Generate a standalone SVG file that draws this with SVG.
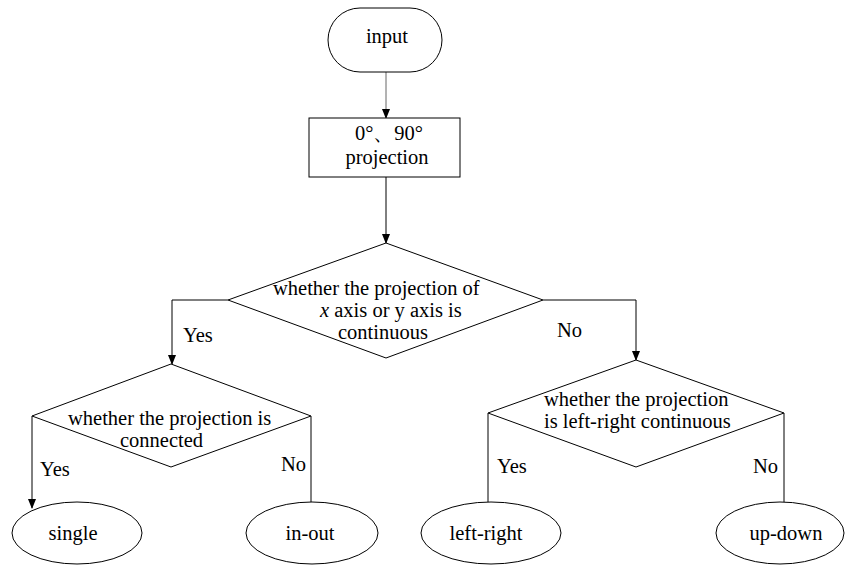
<svg xmlns="http://www.w3.org/2000/svg" width="845" height="567" viewBox="0 0 845 567">
<style>
.s{fill:#fff;stroke:#000;stroke-width:1}
.t{font-family:"Liberation Serif","Times New Roman",serif;font-size:20.5px;fill:#000}
.c{text-anchor:middle}
.l{fill:none;stroke:#000;stroke-width:1}
</style>
<defs>
<marker id="a" markerWidth="10" markerHeight="10" refX="9" refY="4" orient="auto" markerUnits="userSpaceOnUse" viewBox="0 0 10 8">
<path d="M0,0 L10,4 L0,8 Z" fill="#000"/>
</marker>
</defs>
<rect width="845" height="567" fill="#fff"/>
<g id="connectors">
<line class="l" x1="386" y1="72" x2="386" y2="118" style="stroke:#666" marker-end="url(#a)"/>
<line class="l" x1="386" y1="177" x2="386" y2="243" marker-end="url(#a)"/>
<polyline class="l" points="228,300 172,300 172,364" marker-end="url(#a)"/>
<polyline class="l" points="543,300 636,300 636,360" marker-end="url(#a)"/>
<line class="l" x1="32" y1="416" x2="32" y2="508" marker-end="url(#a)"/>
<line class="l" x1="311" y1="416" x2="311" y2="502"/>
<line class="l" x1="488" y1="413" x2="488" y2="502"/>
<line class="l" x1="784" y1="413" x2="784" y2="502"/>
<text class="t" x="183" y="342">Yes</text>
<text class="t" x="557" y="337">No</text>
<text class="t" x="40" y="476">Yes</text>
<text class="t" x="281" y="471">No</text>
<text class="t" x="497" y="473">Yes</text>
<text class="t" x="753" y="473">No</text>
</g>
<g id="input">
<rect class="s" x="328" y="8" width="114" height="64" rx="32" ry="32"/>
<text class="t c" x="387" y="43">input</text>
</g>
<g id="projection">
<rect class="s" x="309" y="118" width="151" height="59"/>
<text class="t c" x="389" y="140">0°、90°</text>
<text class="t c" x="387" y="164">projection</text>
</g>
<g id="decision1">
<polygon class="s" points="386,243 543,300 386,358 228,300"/>
<text class="t" x="273" y="295">whether the projection of</text>
<text class="t" x="320" y="317"><tspan font-style="italic">x</tspan> axis or y axis is</text>
<text class="t" x="338" y="339">continuous</text>
</g>
<g id="decision2">
<polygon class="s" points="171,364 311,416 171,467 32,416"/>
<text class="t" x="68" y="425">whether the projection is</text>
<text class="t" x="120" y="447">connected</text>
</g>
<g id="decision3">
<polygon class="s" points="636,360 784,413 636,467 488,413"/>
<text class="t" x="544" y="406">whether the projection</text>
<text class="t" x="544" y="428">is left-right continuous</text>
</g>
<g id="single">
<ellipse class="s" cx="77" cy="533" rx="65" ry="31"/>
<text class="t c" x="73" y="540">single</text>
</g>
<g id="inout">
<ellipse class="s" cx="312" cy="533" rx="66" ry="31"/>
<text class="t c" x="310" y="540">in-out</text>
</g>
<g id="leftright">
<ellipse class="s" cx="491" cy="533" rx="70" ry="31"/>
<text class="t c" x="486" y="540">left-right</text>
</g>
<g id="updown">
<ellipse class="s" cx="780" cy="533" rx="64" ry="31"/>
<text class="t c" x="786" y="540">up-down</text>
</g>
</svg>
